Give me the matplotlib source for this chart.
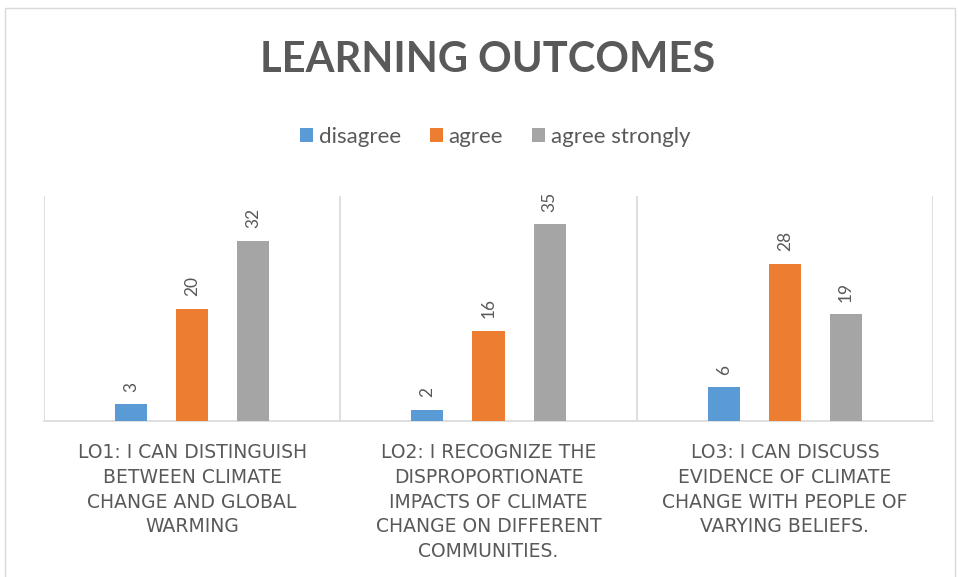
import matplotlib
matplotlib.use("Agg")
import matplotlib.pyplot as plt
from matplotlib.patches import Rectangle
from matplotlib.font_manager import FontProperties
import numpy as np

# data
categories = [
    "LO1: I CAN DISTINGUISH\nBETWEEN CLIMATE\nCHANGE AND GLOBAL\nWARMING",
    "LO2: I RECOGNIZE THE\nDISPROPORTIONATE\nIMPACTS OF CLIMATE\nCHANGE ON DIFFERENT\nCOMMUNITIES.",
    "LO3: I CAN DISCUSS\nEVIDENCE OF CLIMATE\nCHANGE WITH PEOPLE OF\nVARYING BELIEFS.",
]
series_names = ["disagree", "agree", "agree strongly"]
disagree = [3, 2, 6]
agree = [20, 16, 28]
agree_strongly = [32, 35, 19]

colors = ["#5b9bd5", "#ed7d31", "#a5a5a5"]
text_grey = "#595959"
line_grey = "#d9d9d9"

plt.rcParams["font.family"] = ["Lato", "DejaVu Sans"]

fig = plt.figure(figsize=(9.58, 5.77), dpi=100)
fig.patches.append(Rectangle((5 / 958, -0.01), 950 / 958, 1 - 8 / 577 + 0.01,
                             transform=fig.transFigure, fill=False,
                             edgecolor=line_grey, lw=1.0))

ax = fig.add_axes([44 / 958, 1 - 421 / 577, (933 - 44) / 958, (421 - 196) / 577])

x = np.arange(len(categories))
width = 0.108
offsets = [-0.206, 0.0, 0.206]
for vals, name, col, off in zip([disagree, agree, agree_strongly], series_names, colors, offsets):
    bars = ax.bar(x + off, vals, width, color=col, label=name, zorder=3)
    for b, v in zip(bars, vals):
        ax.annotate(str(v), (b.get_x() + b.get_width() / 2, b.get_height()),
                    xytext=(0, 9), textcoords="offset points",
                    rotation=90, ha="center", va="bottom",
                    fontsize=12.5, color=text_grey)

ax.set_xlim(-0.5, 2.5)
ax.set_ylim(0, 40)
for xv in [-0.5, 0.5, 1.5, 2.5]:
    ax.axvline(xv, color=line_grey, lw=1.2, zorder=1)
for s in ["top", "left", "right"]:
    ax.spines[s].set_visible(False)
ax.spines["bottom"].set_color(line_grey)
ax.spines["bottom"].set_linewidth(1.2)
ax.set_yticks([])
ax.set_xticks(x)
lab_font = FontProperties(family="DejaVu Sans", size=13.5)
ax.set_xticklabels(categories, linespacing=1.38, va="top", fontproperties=lab_font,
                   color=text_grey)
ax.tick_params(axis="x", length=0, pad=16)

fig.text(488 / 958, 1 - 60 / 577, "LEARNING OUTCOMES", ha="center", va="center",
         fontsize=30, fontweight="bold", color=text_grey)

fig.legend(loc="center", bbox_to_anchor=(495 / 958, 1 - 137 / 577), ncol=3,
           frameon=False, fontsize=16, handlelength=0.6, handleheight=0.6,
           handletextpad=0.25, columnspacing=1.3, labelcolor=text_grey)

fig.savefig("out.png", dpi=100)
